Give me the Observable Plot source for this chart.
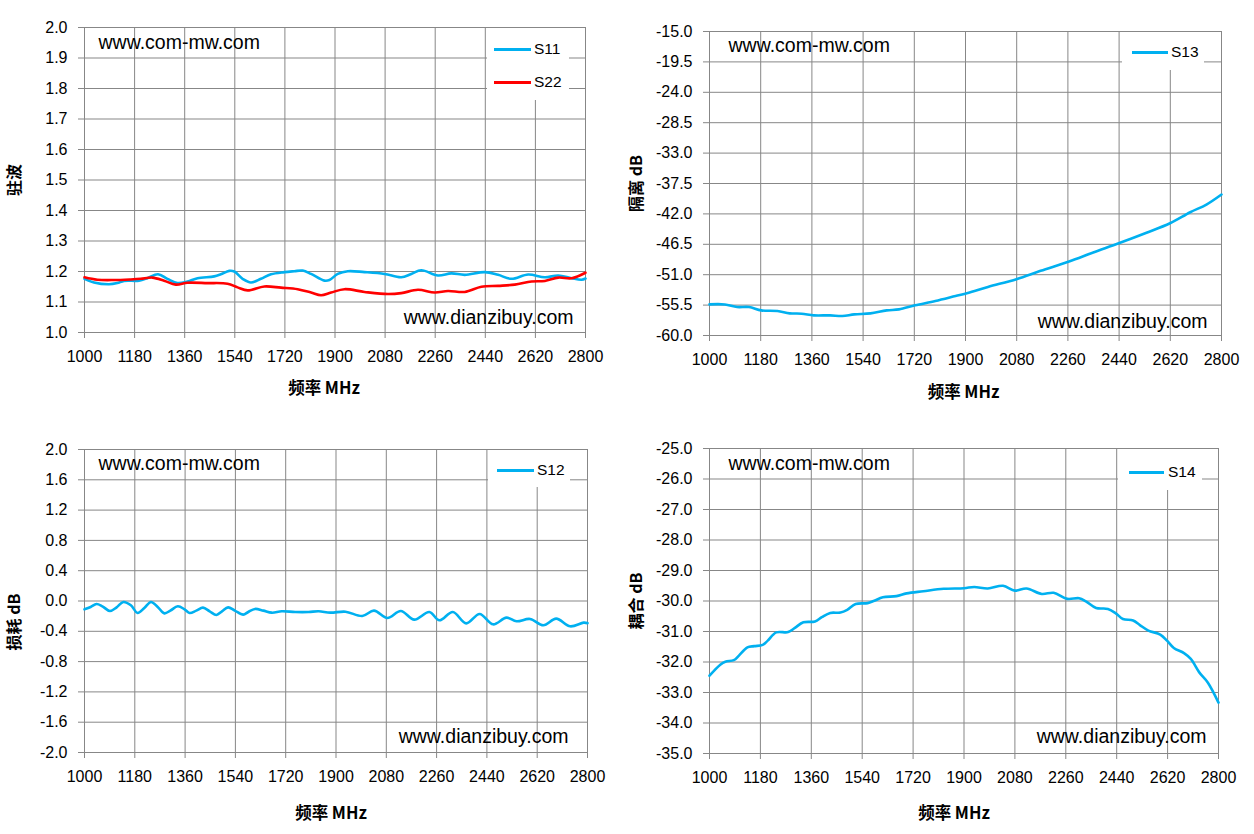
<!DOCTYPE html>
<html>
<head>
<meta charset="utf-8">
<script src="https://cdn.jsdelivr.net/npm/d3@7"></script>
<script src="https://cdn.jsdelivr.net/npm/@observablehq/plot@0.6"></script>
<style>
  html, body { margin: 0; padding: 0; background: #fff; }
  #root { position: relative; width: 1254px; height: 834px; background: #fff; overflow: hidden; }
  .panel { position: absolute; }
  .legend { position: absolute; background: #fff; font-family: "Liberation Sans", Arial, sans-serif; font-size: 15.5px; color: #000; }
  .legend .item { position: absolute; height: 18px; line-height: 18px; white-space: nowrap; }
  .legend .sw { position: absolute; top: 8px; height: 2.5px; }
  .legend .lb { position: absolute; top: 0; }
</style>
</head>
<body>
<div id="root"></div>
<script>
// ---------- tick labels ----------
const FREQ_TICKS = [1000, 1180, 1360, 1540, 1720, 1900, 2080, 2260, 2440, 2620, 2800];
const VSWR_TICKS = [1.0, 1.1, 1.2, 1.3, 1.4, 1.5, 1.6, 1.7, 1.8, 1.9, 2.0];
const ISO_TICKS = [-60.0, -55.5, -51.0, -46.5, -42.0, -37.5, -33.0, -28.5, -24.0, -19.5, -15.0];
const LOSS_TICKS = [-2.0, -1.6, -1.2, -0.8, -0.4, 0.0, 0.4, 0.8, 1.2, 1.6, 2.0];
const COUP_TICKS = [-35.0, -34.0, -33.0, -32.0, -31.0, -30.0, -29.0, -28.0, -27.0, -26.0, -25.0];

// ---------- series: S11 (VSWR) ----------
const S11_F = [1000,1034,1088,1118,1142,1196,1226,1264,1298,1334,1370,1406,1466,1490,1520,1538,1568,1598,1634,1670,1718,1754,1784,1814,1862,1880,1910,1946,2006,2078,2138,2174,2210,2270,2318,2366,2438,2486,2534,2594,2654,2702,2750,2786,2800];
const S11_V = [1.176,1.164,1.158,1.162,1.169,1.170,1.178,1.191,1.176,1.162,1.167,1.178,1.184,1.191,1.202,1.200,1.176,1.164,1.176,1.191,1.198,1.201,1.203,1.192,1.170,1.172,1.192,1.201,1.198,1.192,1.181,1.192,1.204,1.187,1.194,1.189,1.198,1.189,1.176,1.190,1.181,1.187,1.178,1.173,1.177];

// ---------- series: S22 (VSWR) ----------
const S22_F = [1000,1046,1106,1166,1202,1244,1286,1328,1370,1442,1514,1550,1586,1646,1706,1766,1814,1850,1886,1934,2006,2090,2138,2198,2258,2306,2366,2426,2486,2546,2606,2654,2702,2750,2800];
const S22_V = [1.181,1.173,1.172,1.174,1.176,1.180,1.170,1.157,1.163,1.162,1.160,1.148,1.138,1.151,1.147,1.142,1.131,1.122,1.131,1.142,1.133,1.126,1.129,1.140,1.131,1.136,1.133,1.150,1.153,1.157,1.167,1.169,1.180,1.178,1.196];

// ---------- series: S13 (isolation dB) ----------
const S13_F = [1000,1054,1097,1139,1182,1239,1282,1324,1367,1424,1467,1509,1566,1623,1666,1723,1794,1865,1908,1979,2079,2164,2264,2349,2441,2534,2619,2690,2747,2800];
const S13_V = [-55.39,-55.40,-55.78,-55.78,-56.28,-56.38,-56.72,-56.77,-57.02,-57.02,-57.12,-56.87,-56.72,-56.28,-56.13,-55.53,-54.89,-54.15,-53.70,-52.81,-51.67,-50.43,-49.04,-47.71,-46.32,-44.83,-43.39,-41.76,-40.62,-39.13];

// ---------- series: S12 (loss dB) ----------
const S12_F = [1000,1022,1043,1064,1091,1115,1139,1166,1190,1214,1238,1262,1286,1307,1334,1358,1376,1400,1424,1448,1472,1492,1514,1538,1568,1586,1610,1640,1670,1706,1754,1802,1838,1880,1934,1994,2036,2084,2132,2180,2234,2270,2318,2366,2414,2462,2510,2546,2594,2642,2688,2738,2786,2800];
const S12_V = [-0.110,-0.079,-0.040,-0.070,-0.132,-0.084,-0.013,-0.057,-0.158,-0.092,-0.013,-0.079,-0.163,-0.127,-0.070,-0.110,-0.158,-0.127,-0.088,-0.136,-0.185,-0.136,-0.084,-0.127,-0.180,-0.145,-0.105,-0.127,-0.154,-0.136,-0.145,-0.145,-0.136,-0.154,-0.141,-0.198,-0.127,-0.224,-0.132,-0.246,-0.145,-0.255,-0.145,-0.295,-0.171,-0.308,-0.220,-0.268,-0.237,-0.321,-0.233,-0.334,-0.286,-0.292];

// ---------- series: S14 (coupling dB) ----------
const S14_F = [1000,1038,1056,1086,1104,1134,1158,1188,1206,1236,1278,1302,1332,1373,1397,1427,1463,1487,1517,1559,1583,1613,1661,1697,1756,1828,1900,1936,1984,2038,2080,2121,2175,2217,2265,2307,2331,2367,2409,2439,2462,2498,2522,2552,2594,2618,2642,2678,2702,2732,2762,2800];
const S14_V = [-32.45,-32.09,-31.99,-31.94,-31.79,-31.52,-31.48,-31.44,-31.30,-31.03,-31.02,-30.88,-30.70,-30.67,-30.53,-30.39,-30.38,-30.29,-30.10,-30.07,-29.99,-29.88,-29.84,-29.75,-29.68,-29.60,-29.58,-29.54,-29.59,-29.50,-29.66,-29.59,-29.77,-29.73,-29.93,-29.91,-30.01,-30.23,-30.26,-30.42,-30.59,-30.64,-30.79,-30.97,-31.10,-31.30,-31.54,-31.71,-31.90,-32.34,-32.67,-33.33];

const BLUE = "#00B0F0";
const RED = "#FF0000";
const GRID = "#878787";
const SANS = "'Liberation Sans', Arial, sans-serif";
const CJK = "'Noto Sans CJK SC', 'Noto Sans', sans-serif";

const toRows = (F, V) => F.map((f, i) => ({f, v: V[i]}));

function panel(cfg) {
  const marks = [
    Plot.gridX(FREQ_TICKS, {stroke: GRID, strokeOpacity: 1, strokeWidth: 1}),
    Plot.gridY(cfg.yTicks, {stroke: GRID, strokeOpacity: 1, strokeWidth: 1}),
    Plot.axisX(FREQ_TICKS, {tickSize: 6, tickPadding: 12, stroke: GRID, fill: "#000", fontSize: 16, tickFormat: d => String(d), label: null}),
    Plot.axisY(cfg.yTicks, {tickSize: 6, tickPadding: 11, stroke: GRID, fill: "#000", fontSize: 16, tickFormat: d => d.toFixed(1), label: null}),
    ...cfg.series.map(s => Plot.line(toRows(s.F, s.V), {x: "f", y: "v", stroke: s.color, strokeWidth: 2.6, curve: "catmull-rom"})),
    Plot.text(["www.com-mw.com"], {frameAnchor: "top-left", textAnchor: "start", lineAnchor: "middle", dx: cfg.wm1[0], dy: cfg.wm1[1], fontSize: 19.5, fontFamily: SANS, fill: "#000"}),
    Plot.text(["www.dianzibuy.com"], {frameAnchor: "bottom-right", textAnchor: "end", lineAnchor: "middle", dx: cfg.wm2[0], dy: cfg.wm2[1], fontSize: 19.5, fontFamily: SANS, fill: "#000"}),
    Plot.text([cfg.yTitle], {frameAnchor: "left", rotate: -90, textAnchor: "middle", lineAnchor: "middle", dx: cfg.yt[0], dy: cfg.yt[1], fontSize: 16, fontWeight: "bold", fontFamily: CJK, fill: "#000"}),
    Plot.text(["频率 MHz"], {frameAnchor: "bottom", textAnchor: "middle", lineAnchor: "middle", dx: cfg.xt[0], dy: cfg.xt[1], fontSize: 16.5, fontWeight: "bold", fontFamily: CJK, fill: "#000"})
  ];
  const svg = Plot.plot({
    width: cfg.w, height: cfg.h,
    marginLeft: cfg.m[0], marginRight: cfg.m[1], marginTop: cfg.m[2], marginBottom: cfg.m[3],
    style: {fontFamily: SANS, fontSize: "16px", color: "#000", background: "#fff", overflow: "visible"},
    x: {domain: [1000, 2800]},
    y: {domain: cfg.yDomain},
    marks
  });
  const div = document.createElement("div");
  div.className = "panel";
  div.style.left = cfg.left + "px";
  div.style.top = cfg.top + "px";
  div.appendChild(svg);
  document.getElementById("root").appendChild(div);
}

function legend(box, items) {
  const lg = document.createElement("div");
  lg.className = "legend";
  Object.assign(lg.style, {left: box[0] + "px", top: box[1] + "px", width: box[2] + "px", height: box[3] + "px"});
  items.forEach(it => {
    const row = document.createElement("div");
    row.className = "item";
    row.style.left = "0px";
    row.style.top = (it.cy - box[1] - 9) + "px";
    const sw = document.createElement("div");
    sw.className = "sw";
    Object.assign(sw.style, {left: (it.x0 - box[0]) + "px", width: (it.x1 - it.x0) + "px", background: it.color});
    const lb = document.createElement("div");
    lb.className = "lb";
    lb.style.left = (it.tx - box[0]) + "px";
    lb.textContent = it.label;
    row.appendChild(sw); row.appendChild(lb);
    lg.appendChild(row);
  });
  document.getElementById("root").appendChild(lg);
}

// Top-left: VSWR
panel({left: 0, top: 0, w: 620, h: 410, m: [84, 35, 27, 78], yDomain: [1.0, 2.0], yTicks: VSWR_TICKS,
  series: [{F: S11_F, V: S11_V, color: BLUE}, {F: S22_F, V: S22_V, color: RED}],
  wm1: [14, 15], wm2: [-12, -15], yTitle: "驻波", yt: [-70, 0], xt: [-11, 56]});
// Top-right: isolation
panel({left: 620, top: 0, w: 634, h: 410, m: [89, 33, 31, 75], yDomain: [-60, -15], yTicks: ISO_TICKS,
  series: [{F: S13_F, V: S13_V, color: BLUE}],
  wm1: [19, 14], wm2: [-14, -14], yTitle: "隔离 dB", yt: [-73, 0], xt: [-2, 57]});
// Bottom-left: loss
panel({left: 0, top: 420, w: 620, h: 414, m: [84, 33, 29, 82], yDomain: [-2, 2], yTicks: LOSS_TICKS,
  series: [{F: S12_F, V: S12_V, color: BLUE}],
  wm1: [14, 14], wm2: [-19, -16], yTitle: "损耗 dB", yt: [-70, 21], xt: [-5, 61]});
// Bottom-right: coupling
panel({left: 620, top: 420, w: 634, h: 414, m: [89, 36, 28, 81], yDomain: [-35, -25], yTicks: COUP_TICKS,
  series: [{F: S14_F, V: S14_V, color: BLUE}],
  wm1: [19, 15], wm2: [-12, -17], yTitle: "耦合 dB", yt: [-73, 0], xt: [-10, 60]});

legend([487, 28, 82, 72], [
  {label: "S11", color: BLUE, x0: 494, x1: 531, tx: 534, cy: 49},
  {label: "S22", color: RED, x0: 494, x1: 531, tx: 534, cy: 82}
]);
legend([1122, 32, 82, 38], [
  {label: "S13", color: BLUE, x0: 1132, x1: 1168, tx: 1171, cy: 52}
]);
legend([488, 450, 82, 37], [
  {label: "S12", color: BLUE, x0: 497, x1: 534, tx: 537, cy: 470}
]);
legend([1118, 449, 84, 41], [
  {label: "S14", color: BLUE, x0: 1129, x1: 1164, tx: 1168, cy: 472}
]);
</script>
</body>
</html>
